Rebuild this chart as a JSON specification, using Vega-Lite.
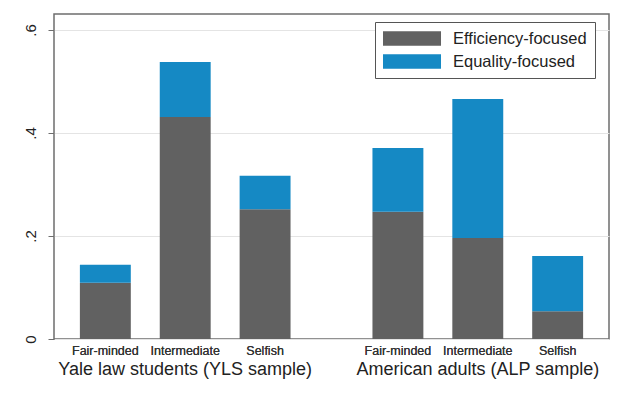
{
  "$schema": "https://vega.github.io/schema/vega-lite/v6.json",
  "width": 555,
  "height": 325,
  "autosize": {"type": "none"},
  "padding": {"left": 54, "top": 14, "right": 19, "bottom": 55},
  "background": "white",
  "config": {
    "font": "Liberation Sans",
    "view": {"stroke": "#6e6e6e", "strokeWidth": 1.5}
  },
  "data": {
    "values": [
      {"sample": "Yale law students (YLS sample)", "type": "Fair-minded", "focus": "Efficiency-focused", "share": 0.109},
      {"sample": "Yale law students (YLS sample)", "type": "Fair-minded", "focus": "Equality-focused", "share": 0.035},
      {"sample": "Yale law students (YLS sample)", "type": "Intermediate", "focus": "Efficiency-focused", "share": 0.431},
      {"sample": "Yale law students (YLS sample)", "type": "Intermediate", "focus": "Equality-focused", "share": 0.107},
      {"sample": "Yale law students (YLS sample)", "type": "Selfish", "focus": "Efficiency-focused", "share": 0.252},
      {"sample": "Yale law students (YLS sample)", "type": "Selfish", "focus": "Equality-focused", "share": 0.065},
      {"sample": "American adults (ALP sample)", "type": "Fair-minded", "focus": "Efficiency-focused", "share": 0.247},
      {"sample": "American adults (ALP sample)", "type": "Fair-minded", "focus": "Equality-focused", "share": 0.124},
      {"sample": "American adults (ALP sample)", "type": "Intermediate", "focus": "Efficiency-focused", "share": 0.196},
      {"sample": "American adults (ALP sample)", "type": "Intermediate", "focus": "Equality-focused", "share": 0.270},
      {"sample": "American adults (ALP sample)", "type": "Selfish", "focus": "Efficiency-focused", "share": 0.054},
      {"sample": "American adults (ALP sample)", "type": "Selfish", "focus": "Equality-focused", "share": 0.107}
    ]
  },
  "encoding": {
    "x": {
      "field": "sample",
      "type": "nominal",
      "sort": ["Yale law students (YLS sample)", "American adults (ALP sample)"],
      "scale": {"paddingInner": 0.181, "paddingOuter": 0.039},
      "axis": {
        "title": null,
        "labelAngle": 0,
        "ticks": false,
        "domain": false,
        "labelFontSize": 18,
        "labelColor": "#222222",
        "labelPadding": 21,
        "labelLimit": 400
      }
    },
    "xOffset": {
      "field": "type",
      "type": "nominal",
      "sort": ["Fair-minded", "Intermediate", "Selfish"],
      "scale": {"paddingInner": 0.3625, "paddingOuter": 0.18125}
    }
  },
  "layer": [
    {
      "mark": {"type": "bar"},
      "encoding": {
        "y": {
          "field": "share",
          "type": "quantitative",
          "stack": "zero",
          "scale": {"domain": [0, 0.631], "nice": false, "zero": true},
          "axis": {
            "title": null,
            "values": [0, 0.2, 0.4, 0.6],
            "labelExpr": "datum.value == 0 ? '0' : replace(format(datum.value, '.1f'), '0.', '.')",
            "labelAngle": -90,
            "labelAlign": "center",
            "labelBaseline": "bottom",
            "labelFontSize": 15,
            "labelColor": "#222222",
            "labelPadding": 10,
            "tickSize": 6,
            "tickColor": "#6e6e6e",
            "domain": false,
            "grid": true,
            "gridColor": "#e4e4e4",
            "gridWidth": 1
          }
        },
        "order": {"field": "focus", "sort": "ascending"},
        "color": {
          "field": "focus",
          "type": "nominal",
          "scale": {"domain": ["Efficiency-focused", "Equality-focused"], "range": ["#616161", "#1589c4"]},
          "legend": {
            "title": null,
            "orient": "none",
            "legendX": 321,
            "legendY": 8,
            "direction": "vertical",
            "symbolType": "M-1,-0.853H5.824V0.853H-1Z",
            "symbolSize": 289,
            "symbolStrokeWidth": 0,
            "symbolOpacity": 1,
            "labelFontSize": 16.5,
            "labelColor": "#222222",
            "labelOffset": 53,
            "rowPadding": 6,
            "padding": 8,
            "strokeColor": "#555555",
            "fillColor": "white",
            "labelLimit": 300
          }
        }
      }
    },
    {
      "mark": {"type": "text", "baseline": "middle", "dy": 12, "fontSize": 12.5, "color": "#333333"},
      "encoding": {
        "y": {"datum": 0},
        "text": {"field": "type"}
      }
    }
  ]
}
